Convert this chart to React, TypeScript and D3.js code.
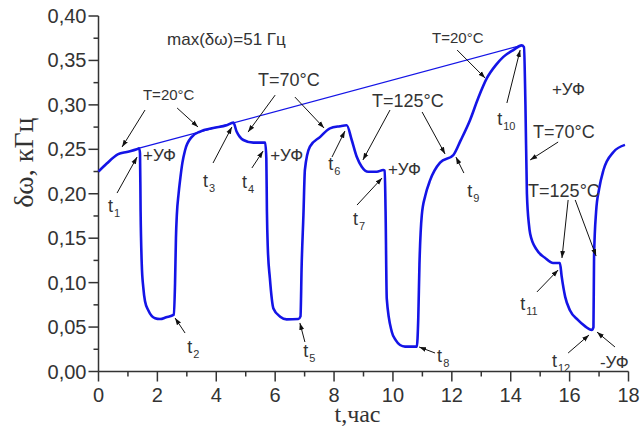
import React from 'react';
import * as d3 from 'd3';

// time, hours
const timeH = [
  0, 0.28, 0.67, 0.96, 1.3, 1.38,
  1.41, 1.43, 1.47, 1.52, 1.58, 1.69, 1.92, 2.09, 2.3, 2.56,
  2.6, 2.63, 2.66, 2.72, 2.77, 2.85, 2.94, 3.17, 3.45, 3.9, 4.35, 4.58,
  4.69, 4.8, 4.92, 5.26, 5.66,
  5.7, 5.72, 5.75, 5.82, 5.94, 6.17, 6.39, 6.79, 6.86,
  6.9, 6.96, 7.01, 7.18, 7.53, 7.86, 8.2, 8.43,
  8.6, 8.77, 8.94, 9.16, 9.45, 9.67, 9.72,
  9.75, 9.79, 9.96, 10.1, 10.24, 10.41, 10.81,
  10.86, 10.9, 10.98, 11.1, 11.26, 11.6, 12.05,
  12.3, 12.62, 12.9, 13.19, 13.5, 13.75, 14.1, 14.37,
  14.45, 14.5, 14.55, 14.62, 14.66, 14.88, 15.16, 15.44, 15.67,
  15.73, 15.85, 16.01, 16.28, 16.52, 16.75,
  16.81, 16.83, 16.9, 17.0, 17.15, 17.49, 17.88,
];

// frequency shift, kHz
const deltaW = [
  0.225, 0.234, 0.2445, 0.247, 0.25, 0.251,
  0.245, 0.18, 0.12, 0.095, 0.079, 0.069, 0.06, 0.059, 0.061, 0.064,
  0.1, 0.15, 0.176, 0.2, 0.215, 0.235, 0.249, 0.264, 0.27, 0.274, 0.277, 0.28,
  0.27, 0.264, 0.2605, 0.2575, 0.2575,
  0.24, 0.18, 0.139, 0.105, 0.071, 0.0617, 0.0587, 0.059, 0.062,
  0.12, 0.176, 0.227, 0.253, 0.264, 0.2736, 0.276, 0.277,
  0.2605, 0.2417, 0.2305, 0.2248, 0.2248, 0.2267, 0.226,
  0.18, 0.082, 0.0448, 0.035, 0.0298, 0.028, 0.028,
  0.06, 0.12, 0.176, 0.198, 0.215, 0.235, 0.2435,
  0.26, 0.283, 0.308, 0.33, 0.345, 0.354, 0.362, 0.367,
  0.365, 0.3, 0.2, 0.165, 0.155, 0.137, 0.128, 0.122, 0.122,
  0.107, 0.084, 0.069, 0.058, 0.051, 0.0467,
  0.05, 0.129, 0.18, 0.205, 0.2267, 0.247, 0.255,
];

// straight line t1 -> t10
const envelopeT = [1.35, 14.37];
const envelopeV = [0.251, 0.367];

const xTicks = [0, 2, 4, 6, 8, 10, 12, 14, 16, 18];
const yTicks = [0, 0.05, 0.1, 0.15, 0.2, 0.25, 0.3, 0.35, 0.4];

// annotations in data units: [text, t, v, fontSize]
const notes: [string, number, number, number][] = [
  ['max(δω)=51 Гц', 2.33, 0.3674, 17],
  ['T=20°C', 1.51, 0.3055, 15],
  ['T=70°C', 5.42, 0.3213, 18],
  ['+УФ', 1.51, 0.2374, 17],
  ['+УФ', 5.83, 0.2374, 17],
  ['T=125°C', 9.29, 0.2976, 18],
  ['+УФ', 9.83, 0.2211, 17],
  ['T=20°C', 11.33, 0.3696, 15],
  ['+УФ', 15.4, 0.3111, 17],
  ['T=70°C', 14.76, 0.2627, 18],
  ['T=125°C', 14.59, 0.1963, 18],
  ['-УФ', 17.03, 0.0039, 17],
];

// moment labels t_n: [index, t, v]
const moments: [string, number, number][] = [
  ['1', 0.32, 0.1795],
  ['2', 3.01, 0.0208],
  ['3', 3.55, 0.2076],
  ['4', 4.87, 0.2065],
  ['5', 6.95, 0.0163],
  ['6', 7.8, 0.2267],
  ['7', 8.64, 0.1648],
  ['8', 11.5, 0.0107],
  ['9', 12.52, 0.1963],
  ['10', 13.54, 0.2773],
  ['11', 14.32, 0.0692],
  ['12', 15.4, 0.0051],
];

// arrows: [t0, v0, t1, v1] tail -> head
const arrows: [number, number, number, number][] = [
  [1.58, 0.2942, 0.8, 0.2526],
  [2.67, 0.2965, 3.38, 0.2751],
  [6.0, 0.311, 5.08, 0.2694],
  [6.67, 0.3088, 7.66, 0.274],
  [0.63, 0.2008, 1.31, 0.2413],
  [3.89, 0.2346, 4.53, 0.2751],
  [5.21, 0.229, 5.59, 0.2481],
  [7.93, 0.2413, 8.37, 0.2706],
  [9.9, 0.2942, 8.98, 0.238],
  [10.99, 0.292, 11.77, 0.2447],
  [8.78, 0.1873, 9.63, 0.2177],
  [12.41, 0.2233, 12.14, 0.2413],
  [12.18, 0.3617, 13.13, 0.3302],
  [13.87, 0.3021, 14.32, 0.3617],
  [15.61, 0.2582, 14.66, 0.238],
  [15.95, 0.193, 15.74, 0.1277],
  [16.19, 0.193, 16.9, 0.1299],
  [14.89, 0.0895, 15.61, 0.1142],
  [15.95, 0.0208, 16.66, 0.0411],
  [17.54, 0.0276, 16.93, 0.0444],
  [2.94, 0.0433, 2.6, 0.0602],
  [7.01, 0.0332, 6.84, 0.0546],
  [11.43, 0.0208, 10.89, 0.0276],
];

const W = 640;
const H = 429;
const sans = '"Liberation Sans", Arial, sans-serif';
const serif = '"Liberation Serif", "Times New Roman", serif';
const ink = '#333';
const blue = '#1414e6';

const x = d3.scaleLinear().domain([0, 18]).range([98.5, 628.5]);
const y = d3.scaleLinear().domain([0, 0.4]).range([371.5, 16]);

const fmt = (v: number) => v.toFixed(2).replace('.', ',');

export default function App() {
  const pts = timeH.map((t, i) => [t, deltaW[i]] as [number, number]);
  const line = d3.line<[number, number]>()
    .x(d => x(d[0]))
    .y(d => y(d[1]))
    .curve(d3.curveMonotoneX);

  const minorX = d3.range(0, 18.01, 1);
  const minorY = d3.range(0, 0.401, 0.025);

  return (
    <div style={{ position: 'fixed', left: 0, top: 0, width: W, height: H, background: '#fff' }}>
      <svg width={W} height={H}>
        <defs>
          <marker id="ah" viewBox="0 0 10 10" refX="10" refY="5" markerWidth="7" markerHeight="7" orient="auto">
            <path d="M0,1.5 L10,5 L0,8.5 Z" fill="#111" />
          </marker>
        </defs>

        {/* axes */}
        <g stroke={ink} strokeWidth={1.5}>
          <line x1={x(0)} x2={x(0)} y1={y(0)} y2={y(0.4)} />
          <line x1={x(0)} x2={x(18)} y1={y(0)} y2={y(0)} />
          {minorY.map((v, i) => (
            <line key={'my' + i} x1={x(0)} x2={x(0) - (i % 2 === 0 ? 10 : 5)} y1={y(v)} y2={y(v)} />
          ))}
          {minorX.map((t, i) => (
            <line key={'mx' + i} x1={x(t)} x2={x(t)} y1={y(0)} y2={y(0) + (i % 2 === 0 ? 10 : 5)} />
          ))}
        </g>
        {yTicks.map(v => (
          <text key={'yt' + v} x={x(0) - 12} y={y(v) + 7} textAnchor="end" fontFamily={sans} fontSize={20} fill={ink}>
            {fmt(v)}
          </text>
        ))}
        {xTicks.map(t => (
          <text key={'xt' + t} x={x(t)} y={y(0) + 30} textAnchor="middle" fontFamily={sans} fontSize={20} fill={ink}>
            {t}
          </text>
        ))}
        <text x={x(9) - 6} y={422} textAnchor="middle" fontFamily={serif} fontSize={24} fill={ink}>t,час</text>
        <text transform={`translate(33,${y(0.235)}) rotate(-90)`} textAnchor="middle" fontFamily={serif} fontSize={28} fill={ink}>
          δω, кГц
        </text>

        {/* data */}
        <line x1={x(envelopeT[0])} y1={y(envelopeV[0])} x2={x(envelopeT[1])} y2={y(envelopeV[1])} stroke={blue} strokeWidth={1.2} />
        <path d={line(pts) ?? ''} fill="none" stroke={blue} strokeWidth={2.6} strokeLinejoin="round" />

        {/* annotations */}
        {arrows.map((a, i) => (
          <line key={'ar' + i} x1={x(a[0])} y1={y(a[1])} x2={x(a[2])} y2={y(a[3])} stroke="#111" strokeWidth={1} markerEnd="url(#ah)" />
        ))}
        {notes.map((n, i) => (
          <text key={'n' + i} x={x(n[1])} y={y(n[2])} fontFamily={sans} fontSize={n[3]} fill={ink}>{n[0]}</text>
        ))}
        {moments.map(m => (
          <text key={'m' + m[0]} x={x(m[1])} y={y(m[2])} fontFamily={sans} fontSize={18} fill={ink}>
            t<tspan fontSize={11} dy={5} dx={1}>{m[0]}</tspan>
          </text>
        ))}
      </svg>
    </div>
  );
}
